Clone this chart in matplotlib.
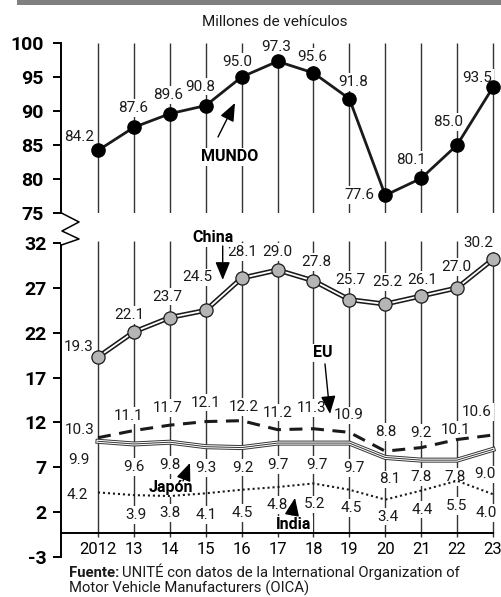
import numpy as np
import matplotlib
matplotlib.use('Agg')
import matplotlib.pyplot as plt
from matplotlib.lines import Line2D
from matplotlib.patches import Rectangle

plt.rcParams['font.family'] = ['Roboto', 'DejaVu Sans']

# ---------------- data ----------------
years = ['2012', '13', '14', '15', '16', '17', '18', '19', '20', '21', '22', '23']
mundo = [84.2, 87.6, 89.6, 90.8, 95.0, 97.3, 95.6, 91.8, 77.6, 80.1, 85.0, 93.5]
china = [19.3, 22.1, 23.7, 24.5, 28.1, 29.0, 27.8, 25.7, 25.2, 26.1, 27.0, 30.2]
eu = [10.3, 11.1, 11.7, 12.1, 12.2, 11.2, 11.3, 10.9, 8.8, 9.2, 10.1, 10.6]
japon = [9.9, 9.6, 9.8, 9.3, 9.2, 9.7, 9.7, 9.7, 8.1, 7.8, 7.8, 9.0]
india = [4.2, 3.9, 3.8, 4.1, 4.5, 4.8, 5.2, 4.5, 3.4, 4.4, 5.5, 4.0]
upper_ticks = [75, 80, 85, 90, 95, 100]
lower_ticks = [-3, 2, 7, 12, 17, 22, 27, 32]

# label offsets (pixels, dx, dy)
mundo_off = [(-19, 13), (-1, 19), (-2, 19), (-5, 19), (-4, 15), (-1, 14),
             (-1, 16), (4, 17), (-26, 0), (-10, 18), (-9, 23), (-16, 9)]
china_off = [(-19, 10), (-5, 17), (-3, 21), (-8, 33), (1, 26), (0, 18),
             (3, 19), (1, 20), (2, 22), (1, 16), (-1, 21), (-15, 16)]
eu_off = [(-18, 8), (-5, 15), (-2, 17), (0, 19), (2, 14), (0, 17),
          (-2, 21), (-1, 17), (1, 19), (0, 15), (-1, 10), (-16, 23)]
japon_off = [(-19, -19), (0, -23), (0, -23), (0, -21), (1, -20), (0, -22),
             (3, -22), (5, -25), (4, -22), (0, -17), (-2, -17), (-8, -25)]
india_off = [(-21, -3), (2, -20), (0, -17), (0, -22), (1, -23), (0, -18),
             (1, -21), (2, -18), (3, -17), (1, -19), (-1, -25), (-7, -19)]

W, H = 501, 597
fig = plt.figure(figsize=(W / 100, H / 100), dpi=100)
fig.patch.set_facecolor('white')

def fx(px):
    return px / W

def fy(py):
    return 1 - py / H

XL = (-1.03, 11.223)
ax_up = fig.add_axes([fx(61), fy(213), 440 / W, 170 / H])
ax_lo = fig.add_axes([fx(61), fy(557), 440 / W, (557 - 241.3) / H])

x = np.arange(len(years))
GRID = '#333333'
INK = '#1a1a1a'
label_kw = dict(textcoords='offset pixels', ha='center', va='center',
                fontsize=11, color=INK, zorder=2, annotation_clip=False,
                bbox=dict(boxstyle='square,pad=0.12', fc='white', ec='none'))

for ax in (ax_up, ax_lo):
    ax.set_xlim(*XL)
    ax.set_facecolor('none')
    for s in ('top', 'right'):
        ax.spines[s].set_visible(False)
    ax.spines['left'].set_linewidth(1.4)
    ax.spines['left'].set_color('black')

# ---- upper panel ----
ax_up.set_ylim(75, 100)
ax_up.spines['bottom'].set_visible(False)
ax_up.set_xticks([])
ax_up.set_yticks(upper_ticks)
ax_up.set_yticklabels([str(t) for t in upper_ticks], fontweight='bold')
ax_up.tick_params(axis='y', direction='out', length=6, width=1.4, pad=6.5,
                  labelsize=14)
ax_up.vlines(x, 75, 100, color=GRID, lw=1.0, zorder=1)
ax_up.plot(x, mundo, color=INK, lw=2.0, zorder=3, marker='o', ms=9.5,
           mfc='black', mec='black', clip_on=False)
for i, v in enumerate(mundo):
    ax_up.annotate(f'{v:.1f}', (x[i], v), xytext=mundo_off[i], **label_kw)

# ---- lower panel ----
ax_lo.set_ylim(-3, 32.2)
ax_lo.spines['left'].set_bounds(-3, 31.8)
ax_lo.spines['bottom'].set_position(('data', -0.3))
ax_lo.spines['bottom'].set_bounds(XL[0], 11)
ax_lo.spines['bottom'].set_linewidth(1.4)
ax_lo.set_yticks(lower_ticks)
ax_lo.set_yticklabels([str(t) for t in lower_ticks], fontweight='bold')
ax_lo.tick_params(axis='y', direction='out', length=6, width=1.4, pad=4.5,
                  labelsize=14)
ax_lo.set_xticks(x)
ax_lo.set_xticklabels(years)
ax_lo.tick_params(axis='x', direction='out', length=3, width=1.0, pad=3.5,
                  labelsize=12, color=GRID)
ax_lo.vlines(x, -0.3, 32.2, color=GRID, lw=1.0, zorder=1)

# China: double line
ax_lo.plot(x, china, color=INK, lw=3.6, zorder=3, solid_joinstyle='miter')
ax_lo.plot(x, china, color='white', lw=1.3, zorder=3.1, solid_joinstyle='miter')
ax_lo.plot(x, china, ls='none', marker='o', ms=9.5, mfc='#b5b5b5', mec=INK,
           mew=0.9, zorder=4, clip_on=False)
# EU: dashed
ax_lo.plot(x, eu, color=INK, lw=2.2, ls=(0, (4.25, 2.8)), zorder=3)
# Japan: triple line
ax_lo.plot(x, japon, color='#333333', lw=3.6, zorder=3, solid_joinstyle='miter')
ax_lo.plot(x, japon, color='white', lw=2.2, zorder=3.1, solid_joinstyle='miter')
ax_lo.plot(x, japon, color='#333333', lw=0.7, zorder=3.2, solid_joinstyle='miter')
# India: dotted
ax_lo.plot(x, india, color=INK, lw=1.5, ls=(0, (1, 1.4)), zorder=3)

for vals, offs in ((china, china_off), (eu, eu_off), (japon, japon_off),
                   (india, india_off)):
    for i, v in enumerate(vals):
        ax_lo.annotate(f'{v:.1f}', (x[i], v), xytext=offs[i], **label_kw)

# ---- series name annotations ----
name_kw = dict(ha='center', va='center', fontsize=11.5, fontweight='bold',
               color='black', zorder=2, clip_on=False,
               bbox=dict(boxstyle='square,pad=0.1', fc='white', ec='none'))
arrow_kw = dict(arrowstyle='-|>,head_length=1.1,head_width=0.45', lw=1.0,
                color='black', shrinkA=0, shrinkB=0, mutation_scale=10)

ax_up.text(3.676, 83.24, 'MUNDO', **name_kw)
ax_up.annotate('', xy=(3.815, 91.18), xytext=(3.342, 86.18),
               arrowprops=arrow_kw, annotation_clip=False, zorder=2.5)

ax_lo.text(3.202, 32.57, 'China', **name_kw)
ax_lo.annotate('', xy=(3.473, 27.89), xytext=(3.473, 31.68),
               arrowprops=arrow_kw, annotation_clip=False, zorder=2.5)

ax_lo.text(6.266, 19.75, 'EU', **name_kw)
ax_lo.annotate('', xy=(6.461, 12.95), xytext=(6.321, 18.53),
               arrowprops=arrow_kw, annotation_clip=False, zorder=2.5)

ax_lo.text(2.033, 4.70, 'Japón', **name_kw)
ax_lo.annotate('', xy=(2.562, 7.49), xytext=(2.367, 5.48),
               arrowprops=arrow_kw, annotation_clip=False, zorder=2.5)

ax_lo.text(5.458, 0.58, 'India', **name_kw)
ax_lo.annotate('', xy=(5.486, 3.59), xytext=(5.402, 1.69),
               arrowprops=arrow_kw, annotation_clip=False, zorder=2.5)

# ---- axis break zigzag ----
zx = [61.5, 79, 62, 79, 61.5]
zy = [213, 222, 231, 239, 245]
fig.add_artist(Line2D([fx(p) for p in zx], [fy(p) for p in zy],
                      transform=fig.transFigure, color='black', lw=1.1))

# ---- header bar and title ----
fig.add_artist(Rectangle((fx(17), fy(5)), (W - 17) / W, 5 / H,
                         transform=fig.transFigure, color='#808080', lw=0))
fig.text(fx(275), fy(22), 'Millones de vehículos', ha='center', va='center',
         fontsize=11, color=INK)

# ---- source ----
r = fig.canvas.get_renderer()
t1 = fig.text(fx(69), fy(577), 'Fuente:', fontweight='bold', fontsize=10.7,
              va='baseline', color=INK)
ext = t1.get_window_extent(renderer=r)
fig.text(ext.x1 / W + 3 / W, fy(577),
         'UNITÉ con datos de la International Organization of',
         fontsize=10.7, va='baseline', color=INK)
fig.text(fx(69), fy(593), 'Motor Vehicle Manufacturers (OICA)', fontsize=10.7,
         va='baseline', color=INK)

fig.savefig('out.png', dpi=100, facecolor='white')
